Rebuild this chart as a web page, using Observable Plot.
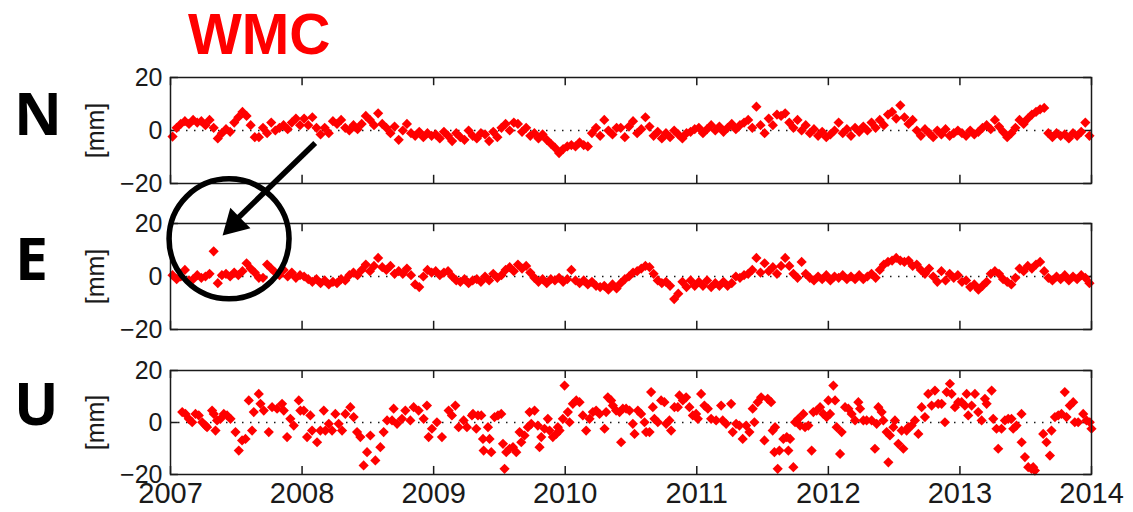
<!DOCTYPE html>
<html><head><meta charset="utf-8">
<script src="https://cdn.jsdelivr.net/npm/d3@7"></script>
<script src="https://cdn.jsdelivr.net/npm/@observablehq/plot@0.6"></script>
<style>
body{margin:0;background:#fff;}
#wrap{position:relative;width:1133px;height:512px;overflow:hidden;font-family:"Liberation Sans",Arial,sans-serif;}
.big{position:absolute;font-family:"Open Sans",sans-serif;font-weight:700;font-size:59px;line-height:59px;color:#000;}
.title{position:absolute;font-family:"Liberation Sans",Arial,sans-serif;font-weight:700;font-size:57px;line-height:normal;color:#ff0000;}
.panel{position:absolute;left:0;}
</style></head><body>
<div id="wrap">
  <div class="title" style="left:188px;top:1px">WMC</div>
  <div class="big" style="left:14px;top:83px">N</div>
  <div class="big" style="left:15px;top:228px">E</div>
  <div class="big" style="left:14px;top:373px">U</div>
  <div class="panel" id="pN" style="top:0px"></div>
  <div class="panel" id="pE" style="top:200px"></div>
  <div class="panel" id="pU" style="top:345px"></div>
</div>
<script>
const years = [2007, 2008, 2009, 2010, 2011, 2012, 2013, 2014];
const yTicks = [-20, 0, 20];
const samplesPerYear = 32; // regular epochs for the N and E series

const nValues = [
  -2.3, 1, 2.5, 3.5, 2.5, 4, 3, 3.5, 2, 4, 1, -3, -1, 0.5, -0.5, 3, 5, 7, 5.5, 2, -2.5, -2.5, 1, -1, 3, 0, 1, 2, 0.5, 3, 4.5, 2,
  4.5, 2, 5, 1, -1.5, 1, -1, 3.5, 2.5, 4, 1, 0, 2, 0.5, 2.5, 5.5, 4, 2, 6.5, 2.5, 1, -1, 1.5, -3.5, 0, 2.5, -1, -2, -0.5, -2.5, -1, -2,
  -1.5, -3, -0.5, -2, -4, -1, -2.5, -3.5, 0, -2, -3, -1, -1.5, -4, -0.5, -2.5, 1, 2.5, 0, 3, 2.5, -0.5, 1, -2, -1, -3, -1.5, -3.5, -5, -6.5, -8.5, -7,
  -6, -5.5, -6, -4.5, -5.5, -6, -1, 1, -2, 4, 0, -1.5, 1, 1, -2.5, 1.5, 3.5, -1, 0.5, 5, 1.5, -2, -0.5, -3, -1, -2.5, 0, -1.5, -3, -1, -0.5, 0.5,
  1, -1, 0.5, 2, 0, 1.5, -0.5, 1, 2.5, 0.5, 2, 3, 4, 1, 9, 2, -1, 4.5, 2, 6, 5.5, 6.5, 3, 1, 4, 0, 2, -1, 0.5, -2, -0.5, -2.5,
  -1.5, 0, 3, -1, 0.5, -2, 1, -0.5, 1.5, 0, 3, 1, 4, 2, 6, 7, 4.5, 9.5, 5, 2.5, 4, 0, -2, 0.5, -1, -2.5, 0, -1.5, 0.5, -2, -1, 0,
  -1, -2, 0, -1.5, -0.5, 1, 2, 0.5, 4, 1.5, -0.5, -2.5, -1, 1, 4, 2.5, 4.5, 6, 7, 8, 8.5, -1, -2.5, -1, -2, -1.5, -3, -1, -2, -0.5, 3, -2
];

const eValues = [
  0.5, -1, 0, 2.5, -1.5, -1, 0.5, -0.5, 0, 1, 9.5, -2.5, 0.5, 1, 0, 1.5, 0.5, 2, 5, 3, 1.5, -0.5, -0.5, 4.5, 3, 1.5, 0.5, 2.5, 0, 1.5, -0.5, 0.5,
  0, -1, -2, -1, -2.5, -1.5, -3, -2, -2.5, -1, -1.5, 0.5, 1.5, 0.5, 2.5, 4.5, 2, 4, 7, 3.5, 2.5, 4, 1, 2, 1, 3, 0.5, -3, -4, 0, 2.5, 1.5,
  2, 0.5, 1.5, 2, 0, -1.5, -2, -1, -2.5, -1.5, -1, -2, 0, -1.5, 1, -0.5, 0.5, 2.5, 3.5, 2, 4.5, 3, 4, 1.5, -0.5, -2, -1, -2.5, -1, -1.5, -0.5, -2,
  -1, 2.5, -1.5, -2.5, -1.5, -3, -2, -3.5, -4, -3.5, -5, -3, -4.5, -2.5, -1, 0, 1.5, 2, 3, 4, 3.5, 1, -1.5, -2.5, -2, -3.5, -8.5, -6.5, -2, -4, -1.5, -3.5,
  -2, -3.5, -1.5, -4, -2.5, -3.5, -2, -3.5, -2.5, 0, -0.5, 0.5, 1, 2.5, 7, 1.5, 5, 2, 3.5, 1, 4, 7, 4, 1, -0.5, 5.5, 1, -0.5, -1.5, 0, -1, 0.5,
  -1.5, 0, -0.5, 0.5, -1, 0, -1, 0.5, -1, 0, 1, -0.5, 2.5, 4.5, 5.5, 6, 7, 6, 5.5, 6, 4, 4.5, 2.5, 1, 3, 0, -2, 2, -1.5, 1, -0.5, 0.5,
  -2, -1.5, -4, -3, -5, -3.5, -2, 1, 2, 1, -1, -2, -3, -0.5, 3, 2, 4, 3, 4.5, 5.5, 2, -0.5, -1.5, 0, -1, 0.5, -1.5, 0, -1, 0.5, -0.5, -2.5
];

const uDates = [
  2007.089, 2007.114, 2007.139, 2007.165, 2007.190, 2007.215, 2007.241, 2007.266, 2007.278, 2007.316, 2007.329, 2007.342, 2007.354, 2007.380, 2007.405, 2007.430, 2007.456, 2007.494, 2007.519, 2007.544, 2007.570, 2007.595, 2007.620, 2007.633, 2007.671, 2007.684, 2007.709, 2007.747, 2007.772, 2007.810, 2007.848, 2007.861, 2007.886, 2007.911, 2007.937, 2007.975, 2007.987,
  2008.013, 2008.038, 2008.063, 2008.076, 2008.114, 2008.139, 2008.165, 2008.177, 2008.203, 2008.228, 2008.253, 2008.278, 2008.304, 2008.329, 2008.367, 2008.392, 2008.418, 2008.443, 2008.468, 2008.494, 2008.519, 2008.557, 2008.595, 2008.620, 2008.646, 2008.684, 2008.696, 2008.722, 2008.759, 2008.785, 2008.823, 2008.848, 2008.886, 2008.924, 2008.949, 2008.962, 2008.987,
  2009.025, 2009.063, 2009.114, 2009.139, 2009.165, 2009.190, 2009.228, 2009.253, 2009.291, 2009.299, 2009.324, 2009.337, 2009.362, 2009.375, 2009.380, 2009.413, 2009.425, 2009.438, 2009.463, 2009.489, 2009.514, 2009.527, 2009.539, 2009.552, 2009.577, 2009.603, 2009.628, 2009.653, 2009.666, 2009.691, 2009.716, 2009.729, 2009.742, 2009.767, 2009.792, 2009.805, 2009.818, 2009.843, 2009.868, 2009.881, 2009.906, 2009.932, 2009.944, 2009.957, 2009.982, 2009.995,
  2010.020, 2010.033, 2010.058, 2010.084, 2010.109, 2010.134, 2010.159, 2010.185, 2010.210, 2010.235, 2010.261, 2010.299, 2010.311, 2010.324, 2010.349, 2010.362, 2010.387, 2010.413, 2010.425, 2010.438, 2010.463, 2010.489, 2010.514, 2010.527, 2010.552, 2010.577, 2010.603, 2010.615, 2010.641, 2010.653, 2010.666, 2010.678, 2010.704, 2010.729, 2010.754, 2010.767, 2010.792, 2010.805, 2010.830, 2010.856, 2010.868, 2010.894, 2010.919, 2010.944, 2010.970, 2010.995,
  2011.008, 2011.033, 2011.058, 2011.084, 2011.109, 2011.147, 2011.185, 2011.197, 2011.223, 2011.261, 2011.273, 2011.299, 2011.324, 2011.349, 2011.375, 2011.400, 2011.425, 2011.438, 2011.463, 2011.489, 2011.514, 2011.539, 2011.565, 2011.577, 2011.590, 2011.595, 2011.615, 2011.628, 2011.658, 2011.684, 2011.696, 2011.709, 2011.734, 2011.747, 2011.772, 2011.785, 2011.810, 2011.823, 2011.848, 2011.873, 2011.886, 2011.911, 2011.937, 2011.962, 2011.987,
  2012.000, 2012.013, 2012.038, 2012.051, 2012.063, 2012.089, 2012.101, 2012.127, 2012.152, 2012.177, 2012.203, 2012.228, 2012.241, 2012.266, 2012.291, 2012.329, 2012.354, 2012.367, 2012.380, 2012.405, 2012.418, 2012.443, 2012.456, 2012.468, 2012.494, 2012.506, 2012.532, 2012.557, 2012.570, 2012.595, 2012.608, 2012.633, 2012.658, 2012.684, 2012.709, 2012.734, 2012.759, 2012.785, 2012.810, 2012.835, 2012.861, 2012.886, 2012.899, 2012.924, 2012.937, 2012.962, 2012.987,
  2013.013, 2013.038, 2013.051, 2013.063, 2013.089, 2013.114, 2013.139, 2013.165, 2013.190, 2013.203, 2013.241, 2013.253, 2013.278, 2013.291, 2013.316, 2013.342, 2013.367, 2013.392, 2013.405, 2013.430, 2013.468, 2013.469, 2013.494, 2013.519, 2013.544, 2013.557, 2013.570, 2013.633, 2013.658, 2013.684, 2013.696, 2013.722, 2013.747, 2013.772, 2013.797, 2013.810, 2013.835, 2013.861, 2013.873, 2013.899, 2013.937, 2013.962, 2013.987, 2014.000
];

const uValues = [
  4.0, 3.3, 1.4, 0.1, 3.3, 2.7, 0.1, -1.2, -1.8, 4.6, 3.3, -3.1, 0.8, 1.4, 3.3, 2.7, 1.4, -3.7, -10.8, -6.9, -6.3, 8.5, -3.1, 4.0, 11.0, 7.2, 4.6, -3.7, 5.9, 5.3, 7.2, 4.6, -5.6, 1.4, -1.2, 8.5, 4.6,
  4.6, -5.6, 2.7, -3.1, -7.6, -3.1, 4.6, -3.1, -0.5, -3.1, 3.3, -0.5, -3.1, 3.3, 5.9, 2.1, -3.7, -5.6, -16.5, -11.4, -5.0, -14.6, -9.5, -3.7, 0.8, 0.8, 5.3, -0.5, 1.4, 4.6, 0.8, 5.9, 4.6, 1.4, 6.5, -5.6, -2.4,
  0.1, -5.6, 4.6, 2.7, 6.5, -1.8, 0.8, -1.8, 2.7, 3.3, -2.4, 2.7, 2.7, -6.3, -10.8, -1.8, -6.3, -11.4, 2.1, 2.7, 3.3, -8.2, -17.8, -11.4, -10.1, -9.5, -11.4, -3.7, -7.6, -5.0, -1.8, 4.0, -0.5, 4.6, -1.2, -9.5, -5.6, -2.4, 1.4, -3.1, -5.6, -4.4, -1.8, -3.1, 1.4, 14.2,
  4.0, 0.1, 7.2, 8.5, 7.8, 2.7, -3.1, 1.4, 4.0, 4.6, 3.3, -2.4, 4.0, 9.7, 8.5, 6.5, 4.6, 4.0, -7.6, 5.3, 5.3, 4.6, -0.5, -4.4, 4.6, 3.3, 0.1, -3.7, -3.7, 11.7, 5.9, 1.4, 0.1, 8.5, 7.8, -0.5, 0.8, -3.1, 5.9, 5.9, 10.4, 8.5, 9.7, 5.9, 2.7, 3.3,
  1.4, 11.0, 6.5, 5.3, 1.4, 0.8, 6.5, 0.8, -0.5, 7.2, -3.7, -0.5, -1.2, -6.3, -1.2, -3.7, 5.3, 0.1, 7.8, 9.7, -6.9, 9.1, 7.8, -3.1, -11.4, -1.8, -17.8, -10.8, -6.3, -5.6, -10.8, -6.3, -17.2, 0.1, 1.4, -1.2, 3.3, -1.8, -1.2, -10.8, 4.0, 4.6, 5.9, 3.3, 2.1,
  8.5, 3.3, 14.2, 8.5, -1.8, -12.1, -3.7, 5.9, 5.3, 3.3, 0.8, 7.8, 5.3, 0.8, 0.8, 0.8, -10.1, -0.5, 5.9, 4.0, 0.8, -3.7, -15.3, -5.0, -1.8, 0.8, -8.2, -3.1, -10.1, -3.1, -1.8, -1.2, 0.8, -4.4, 5.9, 2.1, 11.0, 6.5, 12.3, 7.2, 7.2, 0.1, 11.7, 14.9, 11.0, 5.9, 7.8,
  7.8, 6.5, 11.0, 2.7, 6.5, 11.0, 4.0, 0.8, 9.1, 7.2, 12.3, 1.4, -2.4, -10.1, -2.4, 0.8, 1.4, 1.4, -2.4, -1.2, 3.3, -7.6, -13.3, -17.2, -17.8, -17.2, -18.5, -4.4, -7.6, -12.7, -3.1, 2.1, 2.7, 3.3, 11.7, 2.1, 6.5, 7.8, 0.1, 0.1, 3.3, 0.8, 0.1, -2.4
];

// annotation, in data coordinates of the E panel
const outlierCircle = [{year: 2007.445, mm: 14.2}];
const arrowShaft = [{x1: 2008.10, y1: 50.4, x2: 2007.48, y2: 20.5}];
const arrowHead = [{year: 2007.486, mm: 19.9, angle: 225.6}];

const nData = nValues.map((v, i) => ({year: 2007 + (i + 0.5) / samplesPerYear, mm: v}));
const eData = eValues.map((v, i) => ({year: 2007 + (i + 0.5) / samplesPerYear, mm: v}));
const uData = uDates.map((t, i) => ({year: t, mm: uValues[i]}));

const ink = "#1a1a1a";
const red = "#ff0000";

function panel(data, {height, marginTop, marginBottom, xLabels = false, extra = []}) {
  return Plot.plot({
    width: 1133,
    height,
    marginLeft: 170,
    marginRight: 42,
    marginTop,
    marginBottom,
    x: {domain: [2007, 2014], axis: null},
    y: {domain: [-20, 20], axis: null},
    style: {background: "transparent", overflow: "visible", color: ink, fontFamily: "'Liberation Sans', Arial, sans-serif"},
    marks: [
      Plot.ruleY([0], {stroke: ink, strokeWidth: 1.3, strokeDasharray: "1.5,6.5"}),
      Plot.ruleX(years, {x: d => d, y1: 20, y2: 16.9, stroke: ink, strokeWidth: 1.5}),
      Plot.ruleX(years, {x: d => d, y1: -20, y2: -16.9, stroke: ink, strokeWidth: 1.5}),
      Plot.ruleY(yTicks, {y: d => d, x1: 2007, x2: 2007.06, stroke: ink, strokeWidth: 1.5}),
      Plot.ruleY(yTicks, {y: d => d, x1: 2013.94, x2: 2014, stroke: ink, strokeWidth: 1.5}),
      Plot.axisY(yTicks, {tickSize: 0, tickPadding: 8, fontSize: 25, label: "[mm]", labelAnchor: "center", labelOffset: 84, labelArrow: "none"}),
      xLabels ? Plot.axisX(years, {tickSize: 0, tickPadding: 8, fontSize: 29, tickFormat: d => String(d), label: null}) : null,
      Plot.dot(data, {x: "year", y: "mm", symbol: "diamond2", r: 4.6, fill: red}),
      Plot.frame({stroke: ink, strokeWidth: 1.5}),
      ...extra
    ]
  });
}

document.getElementById("pN").append(panel(nData, {height: 200, marginTop: 77, marginBottom: 17}));
document.getElementById("pE").append(panel(eData, {height: 145, marginTop: 23, marginBottom: 16, extra: [
  Plot.dot(outlierCircle, {x: "year", y: "mm", r: 60, stroke: "#000", strokeWidth: 5.5, fill: "none"}),
  Plot.link(arrowShaft, {x1: "x1", y1: "y1", x2: "x2", y2: "y2", stroke: "#000", strokeWidth: 5.5}),
  Plot.dot(arrowHead, {x: "year", y: "mm", symbol: "triangle", r: 10.7, fill: "#000", stroke: "none", rotate: "angle"})
]}));
document.getElementById("pU").append(panel(uData, {height: 167, marginTop: 25, marginBottom: 38, xLabels: true}));
</script>
</body></html>
